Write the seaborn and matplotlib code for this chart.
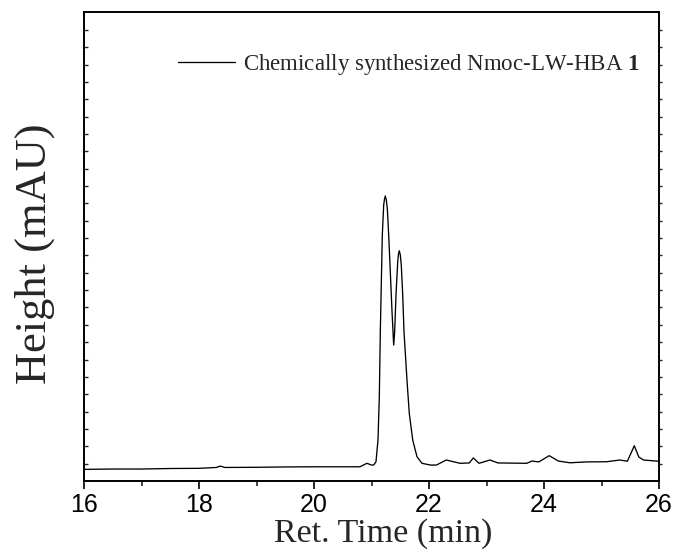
import matplotlib
matplotlib.use("Agg")
import matplotlib.pyplot as plt
import seaborn as sns
import pandas as pd

# Retention time (min) and detector height (mAU, arbitrary scale)
ret_time = [16.0, 16.5, 17.0, 17.5, 18.0, 18.3, 18.37, 18.45, 19.0, 19.5, 20.0, 20.45,
            20.80, 20.92, 21.0, 21.038, 21.078, 21.113, 21.136, 21.153, 21.170, 21.188,
            21.212, 21.226, 21.240, 21.257, 21.275, 21.299, 21.327, 21.357, 21.374, 21.386,
            21.403, 21.426, 21.456, 21.470, 21.483, 21.500, 21.518, 21.543, 21.565, 21.617,
            21.657, 21.717, 21.791, 21.878, 22.023, 22.13, 22.30, 22.54, 22.70, 22.77,
            22.87, 23.06, 23.2, 23.7, 23.79, 23.91, 24.09, 24.25, 24.45, 24.74, 25.09,
            25.32, 25.45, 25.57, 25.65, 25.73, 25.99]
height = [6.7, 6.9, 6.9, 7.2, 7.3, 7.8, 8.6, 7.8, 7.9, 8.1, 8.2, 8.2,
          8.2, 10.2, 9.2, 9.2, 11.1, 23.6, 48.6, 85.1, 113.0, 141.8,
          159.1, 162.5, 164.3, 162.0, 157.2, 141.8, 120.6, 97.6, 86.1, 78.4,
          86.1, 107.2, 126.4, 131.0, 132.7, 130.5, 124.5, 107.2, 86.1, 58.2,
          39.0, 23.6, 14.0, 10.2, 9.2, 9.2, 12.1, 10.2, 10.4, 13.3,
          10.2, 12.1, 10.4, 10.2, 11.5, 11.0, 14.6, 11.5, 10.5, 11.0, 11.1,
          12.1, 11.4, 20.3, 13.8, 12.1, 11.4]

series_label = r"Chemically synthesized Nmoc-LW-HBA $\mathbf{1}$"
x_ticks = [16, 18, 20, 22, 24, 26]
x_minor = [17, 19, 21, 23, 25]
y_ticks = list(range(10, 270, 10))

df = pd.DataFrame({"Ret. Time (min)": ret_time, "Height (mAU)": height})

sns.set_style("ticks")
plt.rcParams["font.family"] = ["Liberation Serif", "DejaVu Serif"]
plt.rcParams["mathtext.fontset"] = "custom"
plt.rcParams["mathtext.rm"] = "Liberation Serif"
plt.rcParams["mathtext.bf"] = "Liberation Serif:bold"

fig = plt.figure(figsize=(6.78, 5.57), dpi=100)
ax = fig.add_axes([84 / 678, 1 - 481 / 557, (659 - 84) / 678, (481 - 12) / 557])

sns.lineplot(data=df, x="Ret. Time (min)", y="Height (mAU)", ax=ax,
             color="black", linewidth=0.95, label=series_label, sort=False)

ax.set_xlim(16, 26)
ax.set_ylim(0, 270.3)
ax.set_xticks(x_ticks)
ax.set_xticks(x_minor, minor=True)
ax.set_xticklabels([str(t) for t in x_ticks], family="Liberation Sans", fontsize=18)
ax.set_yticks(y_ticks)
ax.set_yticklabels([])

for s in ax.spines.values():
    s.set_linewidth(1.4)
    s.set_color("black")

ax.tick_params(axis="x", which="major", direction="out", length=6, width=1.2, pad=3,
               top=False, bottom=True, colors="black")
ax.tick_params(axis="x", which="minor", direction="out", length=3.5, width=1.2,
               top=False, bottom=True)
ax.tick_params(axis="y", which="major", direction="in", length=3, width=1.0,
               left=True, right=False)

ax2 = ax.twinx()
ax2.set_ylim(ax.get_ylim())
ax2.set_yticks(y_ticks)
ax2.set_yticklabels([])
ax2.tick_params(axis="y", direction="out", length=2.5, width=1.0, right=True, left=False)
for s in ax2.spines.values():
    s.set_visible(False)

ax.set_xlabel("Ret. Time (min)", fontsize=24.5)
ax.xaxis.set_label_coords(0.52, -0.08)
ax.set_ylabel("Height (mAU)", fontsize=32)
ax.yaxis.set_label_coords(-0.051, 0.485)

leg = ax.legend(loc="upper right", frameon=False, fontsize=16.5, handlelength=2.5,
                handletextpad=0.35, borderaxespad=0.2, bbox_to_anchor=(0.991, 0.943))

fig.savefig("out.png", dpi=100)
